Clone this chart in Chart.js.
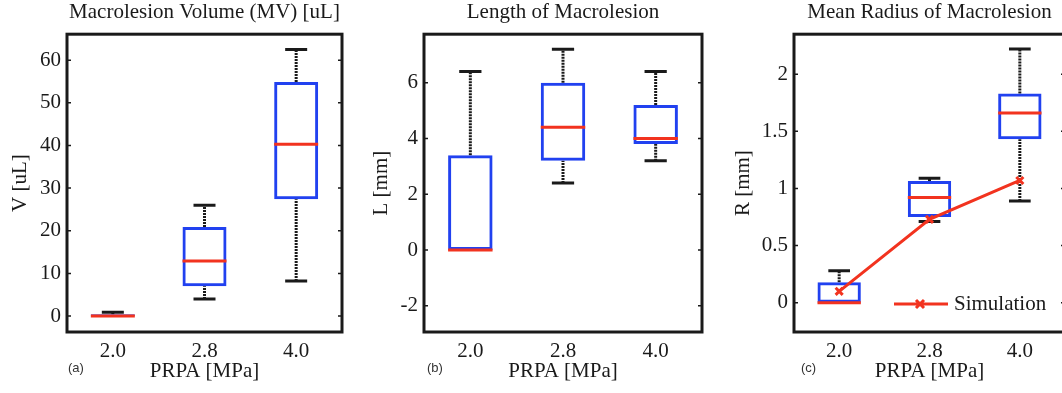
<!DOCTYPE html>
<html>
<head>
<meta charset="utf-8">
<script src="https://cdn.jsdelivr.net/npm/chart.js@4/dist/chart.umd.min.js"></script>
<style>
  html, body { margin: 0; padding: 0; background: #fff; overflow: hidden; width: 1062px; height: 393px; }
  .panel { position: absolute; top: 0; height: 393px; }
  .panel canvas { display: block; }
  .tag { position: absolute; top: 360px; font: 13px "Liberation Sans", Arial, sans-serif; color: #333; }
</style>
</head>
<body>
<div class="panel" style="left:0; width:354px"><canvas id="mv" width="354" height="393" style="width:354px;height:393px"></canvas></div>
<div class="panel" style="left:354px; width:354px"><canvas id="len" width="354" height="393" style="width:354px;height:393px"></canvas></div>
<div class="panel" style="left:708px; width:365px"><canvas id="rad" width="365" height="393" style="width:365px;height:393px"></canvas></div>
<div class="tag" style="left:68px">(a)</div>
<div class="tag" style="left:427px">(b)</div>
<div class="tag" style="left:801px">(c)</div>
<script>
const prpa = ['2.0', '2.8', '4.0'];

// (a) macrolesion volume [uL]
const mvLow = [0, 4, 8.2];
const mvQ1 = [0, 7, 27.4];
const mvMed = [0, 12.9, 40.3];
const mvQ3 = [0.4, 20.9, 54.9];
const mvHigh = [0.9, 26, 62.5];
const mvTicks = [0, 10, 20, 30, 40, 50, 60];

// (b) length [mm]
const lenLow = [0, 2.4, 3.2];
const lenQ1 = [0, 3.2, 3.8];
const lenMed = [0, 4.4, 4.0];
const lenQ3 = [3.4, 6.0, 5.2];
const lenHigh = [6.4, 7.2, 6.4];
const lenTicks = [-2, 0, 2, 4, 6];

// (c) mean radius [mm]
const radLow = [0, 0.71, 0.89];
const radQ1 = [0, 0.75, 1.43];
const radMed = [0, 0.92, 1.66];
const radQ3 = [0.18, 1.065, 1.83];
const radHigh = [0.28, 1.09, 2.22];
const radSim = [0.1, 0.73, 1.07];
const radTicks = [0, 0.5, 1, 1.5, 2];

const BLUE = '#2141f0';
const RED = '#f2331f';
const INK = '#1a1a1a';

Chart.defaults.font.family = '"Liberation Serif", "Times New Roman", serif';
Chart.defaults.font.size = 21;
Chart.defaults.color = INK;

// box frame + small inward ticks, matlab style
const framePlugin = {
  id: 'frame',
  afterDatasetsDraw(chart) {
    const { ctx, chartArea: a } = chart;
    const y = chart.scales.y;
    ctx.save();
    ctx.strokeStyle = INK;
    ctx.lineWidth = 3;
    ctx.strokeRect(a.left, a.top, a.right - a.left, a.bottom - a.top);
    ctx.lineWidth = 1.5;
    ctx.beginPath();
    y.ticks.forEach(t => {
      const py = y.getPixelForValue(t.value);
      ctx.moveTo(a.left, py); ctx.lineTo(a.left + 4, py);
      ctx.moveTo(a.right, py); ctx.lineTo(a.right - 4, py);
    });
    ctx.stroke();
    ctx.restore();
  }
};

// legend for the simulation line, bottom right inside the axes
const simLegend = {
  id: 'simLegend',
  afterDraw(chart) {
    const ds = chart.data.datasets.find(d => d.label);
    if (!ds) return;
    const { ctx, chartArea: a } = chart;
    const y = a.bottom - 28;
    const x0 = a.right - 171, x1 = a.right - 117, xm = a.right - 145;
    ctx.save();
    ctx.strokeStyle = ds.borderColor;
    ctx.lineWidth = 3;
    ctx.beginPath();
    ctx.moveTo(x0, y); ctx.lineTo(x1, y);
    ctx.moveTo(xm - 4, y - 4); ctx.lineTo(xm + 4, y + 4);
    ctx.moveTo(xm - 4, y + 4); ctx.lineTo(xm + 4, y - 4);
    ctx.stroke();
    ctx.fillStyle = INK;
    ctx.font = '21px "Liberation Serif", serif';
    ctx.textBaseline = 'middle';
    ctx.fillText(ds.label, a.right - 111, y);
    ctx.restore();
  }
};

function catWidth(ctx) {
  return ctx.chart.scales.x.width / prpa.length;
}

function boxDatasets(lo, q1, med, q3, hi) {
  const sets = [];
  sets.push({
    type: 'line', showLine: false, order: 1,
    data: prpa.map((c, i) => ({ x: c, y: med[i] })),
    pointStyle: 'line', pointBorderColor: RED, pointBorderWidth: 3,
    pointRadius: ctx => catWidth(ctx) * 0.24
  });
  sets.push({
    type: 'bar', order: 3,
    data: prpa.map((c, i) => [q1[i], q3[i]]),
    backgroundColor: 'rgba(255,255,255,0)',
    borderColor: BLUE, borderWidth: 3, borderSkipped: false,
    barPercentage: 0.48, categoryPercentage: 1
  });
  const caps = [];
  prpa.forEach((c, i) => {
    if (hi[i] > q3[i]) caps.push({ x: c, y: hi[i] });
    if (lo[i] < q1[i]) caps.push({ x: c, y: lo[i] });
  });
  sets.push({
    type: 'line', showLine: false, order: 4, data: caps,
    pointStyle: 'line', pointBorderColor: INK, pointBorderWidth: 3,
    pointRadius: ctx => catWidth(ctx) * 0.12
  });
  prpa.forEach((c, i) => {
    [[q3[i], hi[i]], [lo[i], q1[i]]].forEach(([a, b]) => {
      if (b <= a) return;
      sets.push({
        type: 'line', order: 5,
        data: [{ x: c, y: a }, { x: c, y: b }],
        borderColor: INK, borderWidth: 3, borderDash: [2, 1],
        pointRadius: 0
      });
    });
  });
  return sets;
}

function makeChart(id, cfg) {
  return new Chart(document.getElementById(id), {
    type: 'bar',
    data: { labels: prpa, datasets: cfg.datasets },
    options: {
      responsive: false,
      animation: false,
      events: [],
      layout: { padding: { left: 0, right: cfg.padRight, top: 0, bottom: 7 } },
      plugins: {
        legend: { display: false },
        tooltip: { enabled: false },
        title: {
          display: true, text: cfg.title, fullSize: false,
          font: { size: 21, weight: 'normal' },
          padding: { top: 0, bottom: 9 }
        }
      },
      scales: {
        x: {
          grid: { display: false, drawTicks: false },
          border: { display: false },
          ticks: { padding: 7 },
          title: { display: true, text: 'PRPA [MPa]', padding: { top: 0, bottom: 2 } },
          afterFit: s => { s.height = 54; }
        },
        y: {
          type: 'linear',
          min: cfg.min, max: cfg.max,
          grid: { display: false, drawTicks: false },
          border: { display: false },
          ticks: { padding: 6, callback: v => String(v) },
          afterBuildTicks: s => { s.ticks = cfg.ticks.map(v => ({ value: v })); },
          title: { display: true, text: cfg.yTitle, padding: { top: cfg.yTitlePad, bottom: 0 } },
          afterFit: s => { s.width = cfg.yWidth; }
        }
      }
    },
    plugins: cfg.plugins
  });
}

makeChart('mv', {
  title: 'Macrolesion Volume (MV) [uL]', yTitle: 'V [uL]',
  min: -3.75, max: 66.1, ticks: mvTicks,
  yWidth: 67, yTitlePad: 8, padRight: 12,
  datasets: boxDatasets(mvLow, mvQ1, mvMed, mvQ3, mvHigh),
  plugins: [framePlugin]
});

makeChart('len', {
  title: 'Length of Macrolesion', yTitle: 'L [mm]',
  min: -2.94, max: 7.74, ticks: lenTicks,
  yWidth: 70, yTitlePad: 15, padRight: 6,
  datasets: boxDatasets(lenLow, lenQ1, lenMed, lenQ3, lenHigh),
  plugins: [framePlugin]
});

const radSets = boxDatasets(radLow, radQ1, radMed, radQ3, radHigh);
radSets.unshift({
  type: 'line', label: 'Simulation', order: 0,
  data: radSim,
  borderColor: RED, borderWidth: 3,
  pointStyle: 'crossRot', pointRadius: 5,
  pointBorderColor: RED, pointBorderWidth: 3
});
makeChart('rad', {
  title: 'Mean Radius of Macrolesion', yTitle: 'R [mm]',
  min: -0.256, max: 2.35, ticks: radTicks,
  yWidth: 86, yTitlePad: 23, padRight: 4,
  datasets: radSets,
  plugins: [framePlugin, simLegend]
});
</script>
</body>
</html>
